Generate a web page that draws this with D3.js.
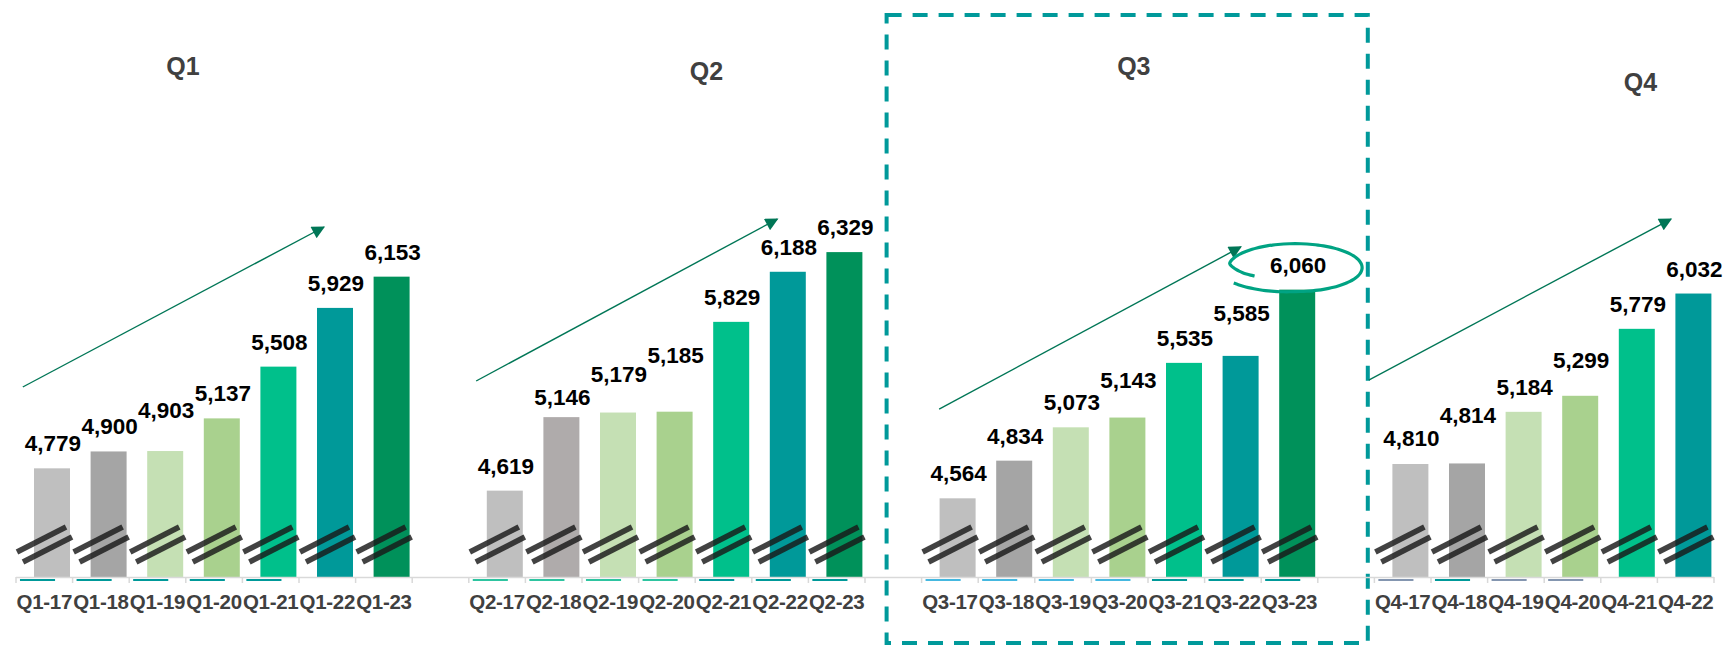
<!DOCTYPE html>
<html>
<head>
<meta charset="utf-8">
<style>
	body { margin: 0; background: #fff; }
	#chart { position: absolute; left: 0; top: 0; }
</style>
<script src="https://cdn.jsdelivr.net/npm/d3@7"></script>
</head>
<body>
<div id="chart"></div>
<script>
	// Data
	const quarters = ["Q1", "Q2", "Q3", "Q4"];
	const years = ["17", "18", "19", "20", "21", "22", "23"];
	const q1Values = [4779, 4900, 4903, 5137, 5508, 5929, 6153];
	const q2Values = [4619, 5146, 5179, 5185, 5829, 6188, 6329];
	const q3Values = [4564, 4834, 5073, 5143, 5535, 5585, 6060];
	const q4Values = [4810, 4814, 5184, 5299, 5779, 6032];
	const valuesByQuarter = [q1Values, q2Values, q3Values, q4Values];
	const highlightQuarter = "Q3";
	// trend arrows, in value units
	const trendFrom = [5362, 5405, 5204, 5412];
	const trendTo = [6509, 6566, 6366, 6566];

	// Styling / layout
	const barColors = ["#bfbfbf", "#a5a5a5", "#c5e0b4", "#a9d18e", "#00c08b", "#009999", "#00915a"];
	const dashColors = [
		["#009999", "#009999", "#009999", "#009999", "#009999", null, null],
		["#2ec4a0", "#2ec4a0", "#2ec4a0", "#2ec4a0", "#009999", "#009999", "#009999"],
		["#45b8e0", "#45b8e0", "#45b8e0", "#45b8e0", "#009999", "#009999", "#009999"],
		["#8496b0", "#009999", "#8496b0", "#8496b0", null, null]
	];
	// extra lift of some value labels (px), as they sit in the original
	const labelLift = [
		[0, 0, 16, 0, 0, 0, 0],
		[0, -5, 14, 32, 0, 0, 0],
		[0, 0, 0, 13, 0, 18, 0],
		[1, 23, 0, 11, 0, 0]
	];
	const headerSlot = [2.95, 12.2, 19.75, 28.7];
	const headerBaseline = [75, 80, 75, 91];
	const arrowSlotFrom = [0.12, 0.13, 0.31, -0.1];
	const arrowSlotTo = [5.44, 5.45, 5.64, 5.24];

	const width = 1727, height = 646;
	const font = "Arial, 'Liberation Sans', sans-serif";

	// Build slot list: each quarter's bars then one empty slot
	var slots = [];
	quarters.forEach(function(q, qi) {
		valuesByQuarter[qi].forEach(function(v, i) {
			slots.push({key: q + "-" + years[i], q: q, qi: qi, i: i, value: v});
		});
		if (qi < quarters.length - 1) slots.push({key: "gap" + qi, gap: true});
	});
	var bars = slots.filter(function(d) { return !d.gap; });
	var groupStart = quarters.map(function(q, qi) {
		return slots.findIndex(function(d) { return d.qi === qi; });
	});

	var svg = d3.select("#chart").append("svg")
		.attr("width", width)
		.attr("height", height);

	var x = d3.scaleBand()
		.domain(slots.map(function(d) { return d.key; }))
		.range([16, 1714])
		.padding(0);
	var bw = x.bandwidth();
	var y = d3.scaleLinear().domain([4000, 8000]).range([577, 19]);
	var y0 = y(4000);
	// slot index -> pixel
	var xs = d3.scaleLinear().domain([0, slots.length]).range([16, 1714]);

	// Highlight box round Q3
	var hq = quarters.indexOf(highlightQuarter);
	svg.append("rect")
		.attr("x", xs(groupStart[hq]) - 35)
		.attr("y", 15)
		.attr("width", xs(groupStart[hq] + 7) - xs(groupStart[hq]) + 85)
		.attr("height", 628)
		.attr("fill", "none")
		.attr("stroke", "#00999a")
		.attr("stroke-width", 4)
		.attr("stroke-dasharray", "15,11");

	// Bars
	svg.selectAll("rect.bar")
		.data(bars)
		.enter()
		.append("rect")
		.attr("class", "bar")
		.attr("x", function(d) { return x(d.key) + bw * 0.318; })
		.attr("y", function(d) { return y(d.value); })
		.attr("width", bw * 0.636)
		.attr("height", function(d) { return y0 - y(d.value); })
		.attr("fill", function(d) {
			if (d.qi === 1 && d.i === 1) return "#afabab";
			return barColors[d.i];
		});

	// Axis breaks
	var breaks = svg.append("g")
		.attr("stroke", "rgba(25,25,25,0.82)")
		.attr("stroke-width", 5.5);
	bars.forEach(function(d) {
		var sx = x(d.key);
		breaks.append("line")
			.attr("x1", sx + 1).attr("y1", y0 - 25)
			.attr("x2", sx + 50).attr("y2", y0 - 50);
		breaks.append("line")
			.attr("x1", sx + 7).attr("y1", y0 - 15)
			.attr("x2", sx + 56).attr("y2", y0 - 40);
	});

	// Baseline axis with ticks
	svg.append("line")
		.attr("x1", 16).attr("x2", 1714)
		.attr("y1", y0 + 0.5).attr("y2", y0 + 0.5)
		.attr("stroke", "#d9d9d9").attr("stroke-width", 1.5);
	svg.selectAll("line.tick")
		.data(d3.range(slots.length + 1))
		.enter()
		.append("line")
		.attr("x1", function(d) { return xs(d); })
		.attr("x2", function(d) { return xs(d); })
		.attr("y1", y0).attr("y2", y0 + 6)
		.attr("stroke", "#d9d9d9").attr("stroke-width", 1.5);

	// small second-series dashes under the axis
	svg.selectAll("rect.dash")
		.data(bars.filter(function(d) { return dashColors[d.qi][d.i]; }))
		.enter()
		.append("rect")
		.attr("x", function(d) { return x(d.key) + bw * 0.07; })
		.attr("y", y0 + 2)
		.attr("width", bw * 0.62)
		.attr("height", 2)
		.attr("fill", function(d) { return dashColors[d.qi][d.i]; });

	// Value labels
	svg.selectAll("text.val")
		.data(bars)
		.enter()
		.append("text")
		.attr("class", "val")
		.attr("x", function(d) { return x(d.key) + bw * 0.636 + 1; })
		.attr("y", function(d) { return y(d.value) - 17 - labelLift[d.qi][d.i]; })
		.attr("text-anchor", "middle")
		.attr("font-family", font)
		.attr("font-weight", "bold")
		.attr("font-size", "22.5px")
		.attr("fill", "#000")
		.text(function(d) { return d3.format(",")(d.value); });

	// Category labels
	svg.selectAll("text.cat")
		.data(bars)
		.enter()
		.append("text")
		.attr("x", function(d) { return x(d.key) + bw / 2; })
		.attr("y", 609)
		.attr("text-anchor", "middle")
		.attr("font-family", font)
		.attr("font-weight", "bold")
		.attr("font-size", "20.5px")
		.attr("letter-spacing", "-0.3px")
		.attr("fill", "#404040")
		.text(function(d) { return d.key; });

	// Quarter headers
	svg.selectAll("text.head")
		.data(quarters)
		.enter()
		.append("text")
		.attr("x", function(d, i) { return xs(headerSlot[i]); })
		.attr("y", function(d, i) { return headerBaseline[i]; })
		.attr("text-anchor", "middle")
		.attr("font-family", font)
		.attr("font-weight", "bold")
		.attr("font-size", "25px")
		.attr("fill", "#404040")
		.text(function(d) { return d; });

	// Trend arrows
	svg.append("defs").append("marker")
		.attr("id", "arrow")
		.attr("markerUnits", "userSpaceOnUse")
		.attr("viewBox", "0 0 10 10")
		.attr("refX", 9).attr("refY", 5)
		.attr("markerWidth", 15).attr("markerHeight", 13)
		.attr("orient", "auto")
		.append("path")
		.attr("d", "M0,0L10,5L0,10Z")
		.attr("fill", "#007656");
	svg.selectAll("line.trend")
		.data(quarters)
		.enter()
		.append("line")
		.attr("x1", function(d, i) { return xs(groupStart[i] + arrowSlotFrom[i]); })
		.attr("y1", function(d, i) { return y(trendFrom[i]); })
		.attr("x2", function(d, i) { return xs(groupStart[i] + arrowSlotTo[i]); })
		.attr("y2", function(d, i) { return y(trendTo[i]); })
		.attr("stroke", "#007656")
		.attr("stroke-width", 1.4)
		.attr("marker-end", "url(#arrow)");

	// Hand-drawn ring round the highlighted value
	var hb = bars.find(function(d) { return d.q === highlightQuarter && d.i === 6; });
	var cx = x(hb.key) + bw * 0.636 - 2, cy = y(hb.value) - 22, rx = 67, ry = 24;
	var pts = d3.range(150, 506, 5).map(function(a) {
		var f = a < 190 ? 0.7 + (a - 150) / 40 * 0.3 : (a > 450 ? 1 + (a - 450) / 55 * 0.12 : 1);
		var t = a * Math.PI / 180;
		return [cx + rx * f * Math.cos(t), cy + ry * f * Math.sin(t)];
	});
	svg.append("path")
		.attr("d", d3.line().curve(d3.curveBasis)(pts))
		.attr("fill", "none")
		.attr("stroke", "#00a383")
		.attr("stroke-width", 3.2);
</script>
</body>
</html>
